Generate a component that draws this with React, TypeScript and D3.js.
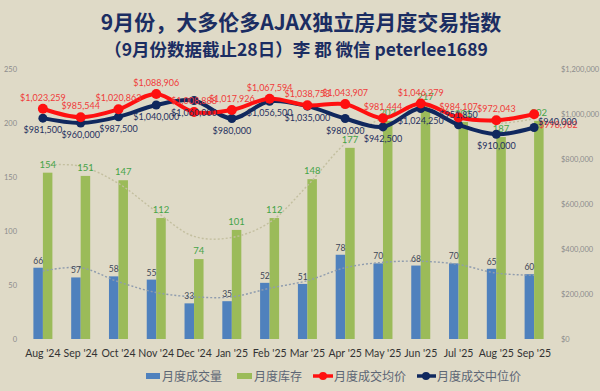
import React from "react";
import * as d3 from "d3";

const months = ["Aug '24", "Sep '24", "Oct '24", "Nov '24", "Dec '24", "Jan '25", "Feb '25", "Mar '25", "Apr '25", "May '25", "Jun '25", "Jul '25", "Aug '25", "Sep '25"];
const sales = [66, 57, 58, 55, 33, 35, 52, 51, 78, 70, 68, 70, 65, 60];
const inventory = [154, 151, 147, 112, 74, 101, 112, 148, 177, 202, 217, 201, 187, 202];
const avgPrice = [1023259, 985544, 1020863, 1088906, 1008888, 1017926, 1067594, 1038753, 1043907, 981444, 1046279, 984107, 972043, 998982];
const medianPrice = [981500, 960000, 987500, 1040000, 1060000, 980000, 1056500, 1035000, 980000, 942500, 1024250, 951850, 910000, 940000];
// trendlines
const salesTrend = [63, 66, 53, 43, 39, 39, 47, 54, 66, 71, 72, 69, 61, 59];
const invTrend = [161, 160, 144, 118, 95, 94, 108, 142, 181, 205, 214, 210, 200, 204];
const leftTicks = [0, 50, 100, 150, 200, 250];
const rightTicks = [0, 200000, 400000, 600000, 800000, 1000000, 1200000];

const W = 600;
const H = 391;
const BG = "#dfdac7";
const BLUE = "#4f81bd";
const GREEN = "#9bbb59";
const RED = "#ff1010";
const NAVY = "#10285e";
const LATIN = "Lato, 'Noto Sans', sans-serif";
const CJK = "'Noto Sans CJK SC', sans-serif";

export default function App() {
  const x = d3.scaleBand<string>().domain(months).range([24, 553]);
  const cx = (i: number) => (x(months[i]) as number) + x.bandwidth() / 2;
  const yL = d3.scaleLinear().domain([0, 250]).range([339, 69]);
  const yR = d3.scaleLinear().domain([0, 1200000]).range([339, 69]);
  const bw = 9.5;
  const money = (v: number) => "$" + d3.format(",")(v);

  const smooth = d3
    .line<number>()
    .x((_, i) => cx(i))
    .curve(d3.curveCatmullRom.alpha(0.5));

  const last = months.length - 1;

  return (
    <svg width={W} height={H} style={{ position: "absolute", left: 0, top: 0, display: "block" }}>
      <rect width={W} height={H} fill={BG} />

      {/* titles */}
      <text x={301} y={30} textAnchor="middle" fontFamily={CJK} fontWeight={700} fontSize={21} fill="#1b2d62">
        9月份，大多伦多AJAX独立房月度交易指数
      </text>
      <text x={296} y={56} textAnchor="middle" fontFamily={CJK} fontWeight={700} fontSize={17.5} fill="#1b2d62">
        （9月份数据截止28日）李 郡 微信 peterlee1689
      </text>

      {/* left axis */}
      {leftTicks.map((t) => (
        <text key={t} x={17} y={yL(t) + 3} textAnchor="end" fontFamily={LATIN} fontSize={7.5} fill="#8c8c8c">
          {t}
        </text>
      ))}
      {/* right axis */}
      {rightTicks.map((t) => (
        <text key={t} x={561} y={yR(t) + 3} textAnchor="start" fontFamily={LATIN} fontSize={7.5} fill="#8c8c8c">
          {money(t)}
        </text>
      ))}

      {/* bars */}
      {sales.map((v, i) => (
        <rect key={"s" + i} x={cx(i) - bw} y={yL(v)} width={bw} height={yL(0) - yL(v)} fill={BLUE} />
      ))}
      {inventory.map((v, i) => (
        <rect key={"v" + i} x={cx(i)} y={yL(v)} width={bw} height={yL(0) - yL(v)} fill={GREEN} />
      ))}

      {/* trendlines */}
      <path d={smooth.y((d) => yL(d))(invTrend) || ""} fill="none" stroke="#c3bf9f" strokeWidth={1.4} strokeDasharray="2,2" />
      <path d={smooth.y((d) => yL(d))(salesTrend) || ""} fill="none" stroke="#8f9cae" strokeWidth={1.4} strokeDasharray="2,2" />

      {/* bar labels */}
      {sales.map((v, i) => (
        <text key={"sl" + i} x={cx(i) - bw / 2} y={yL(v) - 4} textAnchor="middle" fontFamily={LATIN} fontSize={8.5} fill="#3d4656">
          {v}
        </text>
      ))}
      {inventory.map((v, i) => (
        <text key={"vl" + i} x={cx(i) + bw / 2} y={yL(v) - 5} textAnchor="middle" fontFamily={LATIN} fontSize={9.5} fill="#45a448">
          {v}
        </text>
      ))}

      {/* price lines */}
      <path d={smooth.y((d) => yR(d))(medianPrice) || ""} fill="none" stroke={NAVY} strokeWidth={4} />
      <path d={smooth.y((d) => yR(d))(avgPrice) || ""} fill="none" stroke={RED} strokeWidth={4} />
      {medianPrice.map((v, i) => (
        <circle key={"mc" + i} cx={cx(i)} cy={yR(v)} r={4.5} fill={NAVY} />
      ))}
      {avgPrice.map((v, i) => (
        <circle key={"ac" + i} cx={cx(i)} cy={yR(v)} r={5} fill={RED} />
      ))}

      {/* price labels */}
      {avgPrice.map((v, i) => (
        <text
          key={"al" + i}
          x={i === last ? cx(i) + 5 : cx(i)}
          y={i === last ? yR(v) + 14 : yR(v) - 8}
          textAnchor={i === last ? "start" : "middle"}
          fontFamily={LATIN}
          fontSize={9}
          fill="#f03a3a"
        >
          {money(v)}
        </text>
      ))}
      {medianPrice.map((v, i) => (
        <text
          key={"ml" + i}
          x={i === last ? cx(i) + 4 : cx(i)}
          y={i === last ? yR(v) - 3 : i === 11 ? yR(v) - 7 : yR(v) + 15}
          textAnchor={i === last ? "start" : "middle"}
          fontFamily={LATIN}
          fontSize={9}
          fill="#1f3060"
        >
          {money(v)}
        </text>
      ))}

      {/* x labels */}
      {months.map((m, i) => (
        <text key={m} x={cx(i)} y={357} textAnchor="middle" fontFamily={LATIN} fontSize={10.5} fill="#333">
          {m}
        </text>
      ))}

      {/* legend */}
      <g fontFamily={CJK} fontSize={12} fill="#5d6675">
        <rect x={146} y={373} width={14} height={6} fill={BLUE} />
        <text x={162} y={381}>月度成交量</text>
        <rect x={237} y={373} width={15} height={6} fill={GREEN} />
        <text x={254} y={381}>月度库存</text>
        <line x1={313} x2={333} y1={376} y2={376} stroke={RED} strokeWidth={3.5} />
        <circle cx={323} cy={376} r={4} fill={RED} />
        <text x={334} y={381}>月度成交均价</text>
        <line x1={417} x2={436} y1={376} y2={376} stroke={NAVY} strokeWidth={3.5} />
        <circle cx={426} cy={376} r={4} fill={NAVY} />
        <text x={437} y={381}>月度成交中位价</text>
      </g>
    </svg>
  );
}
